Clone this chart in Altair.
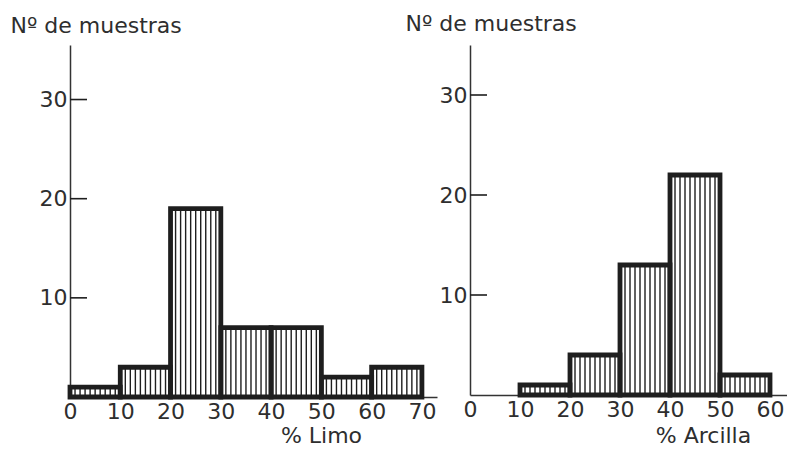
import altair as alt
import pandas as pd

# ---- data ----
limo_bins = [0, 10, 20, 30, 40, 50, 60]
limo_counts = [1, 3, 19, 7, 7, 2, 3]
arcilla_bins = [10, 20, 30, 40, 50]
arcilla_counts = [1, 4, 13, 22, 2]
bin_width = 10
y_ticks = [10, 20, 30]
limo_xticks = [0, 10, 20, 30, 40, 50, 60, 70]
arcilla_xticks = [0, 10, 20, 30, 40, 50, 60]
y_title = "Nº de muestras"
limo_title = "% Limo"
arcilla_title = "% Arcilla"

INK = "#1e1e1e"
TXT = "#2e2e2e"
FONT = "DejaVu Sans"
HATCH_STEP = 1.0  # hatch spacing in data units (decoration)


def panel(bins, counts, xticks, xtitle, xmax, ymax, w, h,
          xt_x, xt_y, yt_x, yt_y):
    bars = pd.DataFrame({"lo": bins,
                         "hi": [b + bin_width for b in bins],
                         "n": counts})
    rows = []
    for lo, n in zip(bins, counts):
        k = 1
        while k * HATCH_STEP < bin_width - 1e-9:
            rows.append({"lo": lo + k * HATCH_STEP, "n": n})
            k += 1
    hatch = pd.DataFrame(rows)
    ticks = pd.DataFrame({"n": y_ticks})

    xs = alt.Scale(domain=[0, xmax], nice=False, zero=False)
    ys = alt.Scale(domain=[0, ymax], nice=False, zero=False)

    bar_layer = alt.Chart(bars).mark_rect(
        fill="white", fillOpacity=0, stroke=INK, strokeWidth=4.8,
        strokeJoin="miter"
    ).encode(
        x=alt.X("lo:Q", scale=xs,
                axis=alt.Axis(values=xticks, ticks=False, grid=False,
                              labelPadding=4, title=xtitle,
                              titleX=xt_x, titleY=xt_y,
                              titleAlign="center",
                              titleBaseline="alphabetic",
                              labelFlush=False, labelOverlap=False)),
        x2="hi:Q",
        y=alt.Y("n:Q", scale=ys,
                axis=alt.Axis(values=y_ticks, ticks=False, grid=False,
                              labelPadding=3, title=y_title,
                              titleAngle=0, titleAlign="left",
                              titleBaseline="alphabetic",
                              titleX=yt_x, titleY=yt_y)),
        y2=alt.datum(0),
    )

    hatch_layer = alt.Chart(hatch).mark_rule(
        color=INK, strokeWidth=1.4
    ).encode(
        x=alt.X("lo:Q", scale=xs),
        y=alt.Y("n:Q", scale=ys),
        y2=alt.datum(0),
    )

    tick_layer = alt.Chart(ticks).mark_rule(
        color=INK, strokeWidth=1.6
    ).encode(
        y=alt.Y("n:Q", scale=ys),
        x=alt.value(0),
        x2=alt.value(17),
    )

    return alt.layer(bar_layer, hatch_layer, tick_layer).properties(
        width=w, height=h
    )


left = panel(limo_bins, limo_counts, limo_xticks, limo_title,
             73, 35.5, 367, 352, 251, 45, -60, -13)
right = panel(arcilla_bins, arcilla_counts, arcilla_xticks, arcilla_title,
              63.4, 35, 317, 350, 233, 47, -65, -15)

chart = alt.hconcat(left, right, spacing=33, bounds="flush").resolve_scale(
    x="independent", y="independent"
).configure(
    padding={"left": 2, "top": 4, "right": 0, "bottom": 0},
).configure_view(
    stroke=None
).configure_axis(
    domainColor="#333333", domainWidth=1.5,
    labelFont=FONT, labelFontSize=22, labelColor=TXT,
    titleFont=FONT, titleFontSize=22, titleColor=TXT,
    titleFontWeight="normal"
)

chart.save("out.html", embed_options={"renderer": "svg", "actions": False})
